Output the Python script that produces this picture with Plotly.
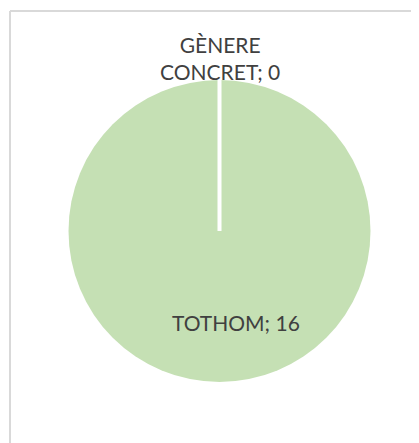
import plotly.graph_objects as go

labels = ["GÈNERE CONCRET", "TOTHOM"]
values = [0, 16]
colors = ["#A9D18E", "#C5E0B4"]

OFF = 8  # page body margin
W, H = 419 - OFF, 443 - OFF
cx, cy, r = 219.5 - OFF, 231 - OFF, 151

fig = go.Figure(go.Pie(
    labels=labels, values=values, sort=False, direction="clockwise",
    rotation=0, textinfo="none", hoverinfo="label+value",
    marker=dict(colors=colors, line=dict(color="white", width=0)),
    domain=dict(x=[(cx - r) / W, (cx + r) / W], y=[(H - cy - r) / H, (H - cy + r) / H]),
    showlegend=False,
))

font = dict(family="Lato, Open Sans, sans-serif", size=21, color="#404040")
fig.add_annotation(x=(220 - OFF) / W, y=(H - (58 - OFF)) / H, xref="paper", yref="paper",
                   xanchor="center", yanchor="middle",
                   text=f"GÈNERE<br>CONCRET; {values[0]}", showarrow=False, font=font,
                   align="center")
fig.add_annotation(x=(235.5 - OFF) / W, y=(H - (322 - OFF)) / H, xref="paper", yref="paper",
                   xanchor="center", yanchor="middle",
                   text=f"TOTHOM; {values[1]}", showarrow=False, font=font)

# separator for the zero-value slice (from centre to top of the pie)
fig.add_shape(type="line", xref="paper", yref="paper",
              x0=cx / W, y0=(H - cy) / H, x1=cx / W, y1=(H - cy + r) / H,
              line=dict(color="white", width=4))
# chart area border (top and left edges visible; the rest lies outside the view)
bx, by = (10 - OFF) / W, (H - (11 - OFF)) / H
fig.add_shape(type="line", xref="paper", yref="paper",
              x0=bx, y0=by, x1=1.0, y1=by, line=dict(color="#D9D9D9", width=2))
fig.add_shape(type="line", xref="paper", yref="paper",
              x0=bx, y0=by, x1=bx, y1=0.0, line=dict(color="#D9D9D9", width=2))

fig.update_layout(width=W, height=H, margin=dict(l=0, r=0, t=0, b=0),
                  paper_bgcolor="white", plot_bgcolor="white")
fig.write_html("out.html")
